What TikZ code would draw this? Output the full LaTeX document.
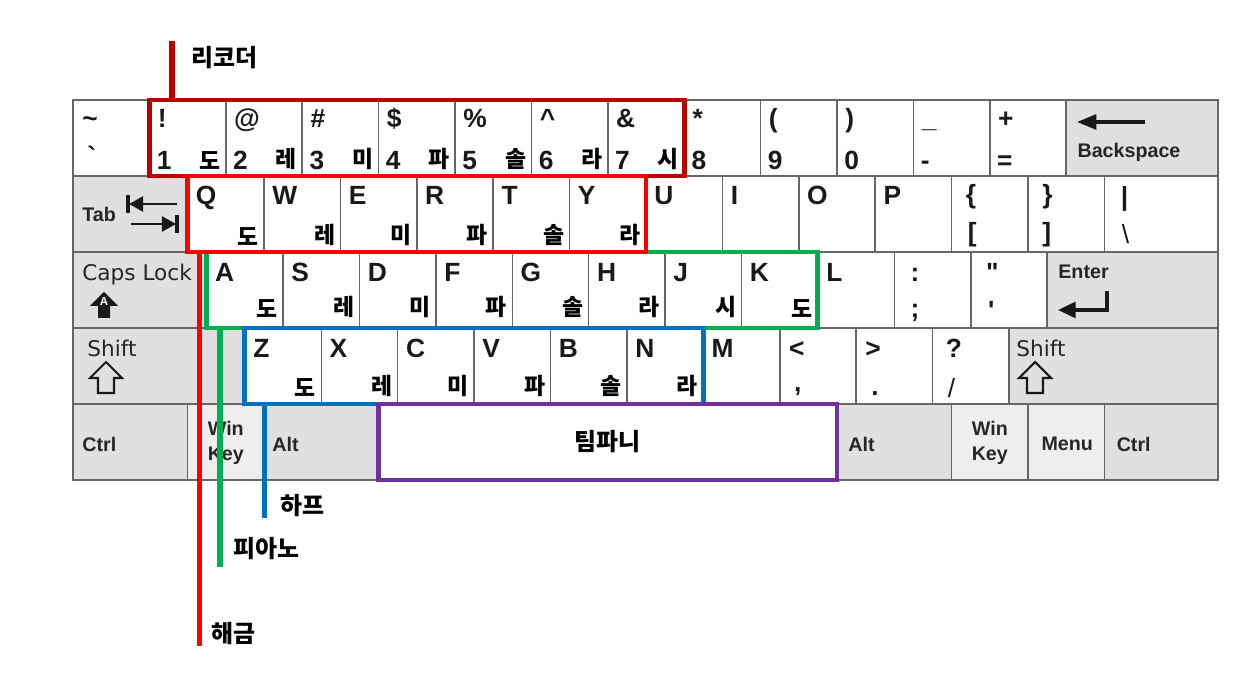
\documentclass[tikz,border=0pt]{standalone}
\usepackage{fontspec}
\setmainfont{Liberation Sans}
\newfontfamily\plainfont{Liberation Sans}
\newfontfamily\krfont{Noto Sans CJK KR}
\newfontfamily\capsfont{DejaVu Sans}
\usetikzlibrary{calc,fit,arrows.meta}

\definecolor{modfill}{HTML}{E0E0E0}
\definecolor{winfill}{HTML}{EEEEEE}
\definecolor{recorder}{HTML}{C00000}
\definecolor{haegeum}{HTML}{FF0000}
\definecolor{piano}{HTML}{00B050}
\definecolor{harp}{HTML}{0070C0}
\definecolor{timpani}{HTML}{7030A0}

\tikzset{
  keycap/.style={draw=black!60, line width=0.9pt, fill=white, inner sep=0pt, outer sep=0pt,
    anchor=north west, minimum height=1.52cm},
  glyph/.style={inner sep=0pt, anchor=base west, text=black!90,
    font=\bfseries\fontsize{15}{15}\selectfont},
  modlbl/.style={inner sep=0pt, text=black!85, font=\bfseries\fontsize{11.2}{14}\selectfont},
  capslbl/.style={inner sep=0pt, anchor=west, text=black!85, font=\capsfont\fontsize{12.3}{14}\selectfont},
  note/.style={inner sep=0pt, anchor=south east, font=\krfont\bfseries\fontsize{13}{13}\selectfont},
  zone/.style={draw=#1, line width=2.8pt, inner sep=0pt},
  lead/.style={draw=#1, line width=3pt},
  zonelbl/.style={inner sep=0pt, font=\krfont\bfseries\fontsize{13.6}{14}\selectfont},
  icon/.style={line width=1.6pt, black!90}
}

% one key: fill, name, top left corner, width (px)
\newcommand\keyat[4][white]{\node[keycap, fill=#1, minimum width=#4*0.02cm] (#2) at (#3) {};}

\begin{document}
\begin{tikzpicture}[x=0.02cm, y=-0.02cm]
\useasboundingbox (0,0) rectangle (1247,695);

% row 1
\keyat{tilde}{73,100}{76.4}
\node[glyph] (tildetop) at ($(tilde.north west)+(9,28)$) {\textasciitilde};
\node[glyph] (tildebot) at ($(tilde.north west)+(14,66)$) {\textasciigrave};
\foreach \sym/\dig [count=\i] in {!/1, @/2, \#/3, \$/4, \%/5, \textasciicircum/6, \&/7, */8, {(}/9, {)}/0, \_/-, +/=}{
  \keyat{d\i}{73+76.4*\i,100}{76.4}
  \node[glyph] (d\i top) at ($(d\i.north west)+(8,28)$) {\sym};
  \node[glyph] (d\i bot) at ($(d\i.north west)+(7,70)$) {\dig};
}
\keyat[modfill]{bksp}{1066.2,100}{151.8}
\node[modlbl, anchor=west] (bksplbl) at ($(bksp.north west)+(11,52)$) {Backspace};
\draw[icon, line width=1.8pt, -{Triangle[length=11pt,width=8.5pt]}] (1145,122) -- (1077,122);

% row 2
\keyat[modfill]{tab}{73,176}{114.6}
\node[modlbl, anchor=west] (tablbl) at ($(tab.west)+(9,0)$) {Tab};
\draw[icon, -{Triangle[length=8pt,width=8.5pt]}] (177,204) -- (129,204);
\draw[icon, line width=1.8pt] (128,195) -- (128,213);
\draw[icon, -{Triangle[length=8pt,width=8.5pt]}] (131,224) -- (176,224);
\draw[icon, line width=1.8pt] (177,215) -- (177,233);
\foreach \l [count=\i from 0] in {Q,W,E,R,T,Y,U,I,O,P}{
  \keyat{\l}{187.6+76.4*\i,176}{76.4}
  \node[glyph] (\l lbl) at ($(\l.north west)+(8,29)$) {\l};
}
\keyat{lbrace}{951.6,176}{76.4}
\node[glyph] (lbracetop) at ($(lbrace.north west)+(14,28)$) {\{};
\node[glyph] (lbracebot) at ($(lbrace.north west)+(16,66)$) {[};
\keyat{rbrace}{1028,176}{76.4}
\node[glyph] (rbracetop) at ($(rbrace.north west)+(14,28)$) {\}};
\node[glyph] (rbracebot) at ($(rbrace.north west)+(14,66)$) {]};
\keyat{bslash}{1104.4,176}{113.6}
\node[glyph] (bslashtop) at ($(bslash.north west)+(16,30)$) {|};
\node[glyph, font=\fontsize{15}{15}\selectfont] (bslashbot) at ($(bslash.north west)+(17,68)$) {\textbackslash};

% row 3
\keyat[modfill]{caps}{73,252}{133.7}
\node[capslbl] (capslbl) at (82,275) {Caps Lock};
\fill[black!90] (104,292) -- (118,306) -- (110,306) -- (110,318) -- (98,318) -- (98,306) -- (90,306) -- cycle;
\node[inner sep=0pt, text=white, font=\bfseries\fontsize{6.5}{6.5}\selectfont] (capsA) at (104,302) {A};
\foreach \l [count=\i from 0] in {A,S,D,F,G,H,J,K,L}{
  \keyat{\l}{206.7+76.4*\i,252}{76.4}
  \node[glyph] (\l lbl) at ($(\l.north west)+(8,30)$) {\l};
}
\keyat{semi}{894.3,252}{76.4}
\node[glyph] (semitop) at ($(semi.north west)+(16,30)$) {:};
\node[glyph] (semibot) at ($(semi.north west)+(16,66)$) {;};
\keyat{quote}{970.7,252}{76.4}
\node[glyph, font=\plainfont\bfseries\fontsize{15}{15}\selectfont] (quotetop) at ($(quote.north west)+(15,30)$) {"};
\node[glyph, font=\plainfont\bfseries\fontsize{15}{15}\selectfont] (quotebot) at ($(quote.north west)+(17,68)$) {'};
\keyat[modfill]{enter}{1047.1,252}{170.9}
\node[modlbl, anchor=west] (enterlbl) at (1058,272) {Enter};
\draw[icon, line width=1.8pt, -{Triangle[length=10pt,width=9pt]}] (1107,291) -- (1107,310) -- (1058,310);

% row 4
\keyat[modfill]{lshift}{73,328}{171.9}
\node[capslbl] (lshiftlbl) at (87,348) {Shift};
\draw[icon, line width=1.2pt] (106,362) -- (122,378) -- (114,378) -- (114,393) -- (98,393) -- (98,378) -- (90,378) -- cycle;
\foreach \l [count=\i from 0] in {Z,X,C,V,B,N,M}{
  \keyat{\l}{244.9+76.4*\i,328}{76.4}
  \node[glyph] (\l lbl) at ($(\l.north west)+(8,30)$) {\l};
}
\keyat{comma}{779.7,328}{76.4}
\node[glyph] (commatop) at ($(comma.north west)+(9,30)$) {<};
\node[glyph] (commabot) at ($(comma.north west)+(14,64)$) {,};
\keyat{period}{856.1,328}{76.4}
\node[glyph] (periodtop) at ($(period.north west)+(9,30)$) {>};
\node[glyph] (periodbot) at ($(period.north west)+(15,68)$) {.};
\keyat{slash}{932.5,328}{76.4}
\node[glyph] (slashtop) at ($(slash.north west)+(13,30)$) {?};
\node[glyph, font=\fontsize{15}{15}\selectfont] (slashbot) at ($(slash.north west)+(15,70)$) {/};
\keyat[modfill]{rshift}{1008.9,328}{209.1}
\node[capslbl] (rshiftlbl) at (1016,348) {Shift};
\draw[icon, line width=1.2pt] (1035,362) -- (1051,378) -- (1043,378) -- (1043,393) -- (1027,393) -- (1027,378) -- (1019,378) -- cycle;

% row 5
\keyat[modfill]{lctrl}{73,404}{114.6}
\keyat[winfill]{lwin}{187.6,404}{76.4}
\keyat[modfill]{lalt}{264,404}{114.6}
\keyat{space}{378.6,404}{458.4}
\keyat[modfill]{ralt}{837,404}{114.6}
\keyat[winfill]{rwin}{951.6,404}{76.4}
\keyat[winfill]{menu}{1028,404}{76.4}
\keyat[modfill]{rctrl}{1104.4,404}{113.6}
\node[modlbl, anchor=west] (lctrllbl) at ($(lctrl.west)+(9,2)$) {Ctrl};
\node[modlbl, align=center] (lwinlbl) at ($(lwin.center)+(0,1)$) {Win\\Key};
\node[modlbl, anchor=west] (laltlbl) at ($(lalt.west)+(8,2)$) {Alt};
\node[modlbl, anchor=west] (raltlbl) at ($(ralt.west)+(11,2)$) {Alt};
\node[modlbl, align=center] (rwinlbl) at ($(rwin.center)+(0,1)$) {Win\\Key};
\node[modlbl] (menulbl) at ($(menu.center)+(1,2)$) {Menu};
\node[modlbl, anchor=west] (rctrllbl) at ($(rctrl.west)+(12,2)$) {Ctrl};

% notes
\foreach \k/\nt/\dy in {d1/도/6, d2/레/6, d3/미/6, d4/파/6, d5/솔/6, d6/라/6, d7/시/6,
    Q/도/6, W/레/6, E/미/6, R/파/6, T/솔/6, Y/라/6,
    A/도/10, S/레/10, D/미/10, F/파/10, G/솔/10, H/라/10, J/시/10, K/도/10,
    Z/도/7, X/레/7, C/미/7, V/파/7, B/솔/7, N/라/7}
  \node[note] (\k note) at ($(\k.south east)+(-5,-\dy)$) {\nt};

% instrument zones
\node[zone=recorder, fit=(d1)(d7)] (recorderzone) {};
\node[zone=piano, fit=(A)(K)] (pianozone) {};
\node[zone=haegeum, fit=(Q)(Y)] (haegeumzone) {};
\node[zone=harp, fit=(Z)(N)] (harpzone) {};
\node[zone=timpani, fit=(space)] (timpanizone) {};
\node[zonelbl] (timpanilbl) at (space) {팀파니};

% leaders
\coordinate (recorderend) at (172,41);
\coordinate (haegeumend) at (199.5,646);
\coordinate (pianoend) at (220,567);
\coordinate (harpend) at (264.5,518);
\draw[lead=recorder] (recorderend) -- (recorderend |- recorderzone.north);
\draw[lead=haegeum] (haegeumend |- haegeumzone.south) -- (haegeumend);
\draw[lead=piano] (pianoend |- pianozone.south) -- (pianoend);
\draw[lead=harp] (harpend |- harpzone.south) -- (harpend);
\node[zonelbl, anchor=west] (recorderlbl) at (191,58) {리코더};
\node[zonelbl, anchor=west] (haegeumlbl) at (211,634) {해금};
\node[zonelbl, anchor=west] (pianolbl) at (233,549) {피아노};
\node[zonelbl, anchor=west] (harplbl) at (280,506) {하프};
\end{tikzpicture}
\end{document}
